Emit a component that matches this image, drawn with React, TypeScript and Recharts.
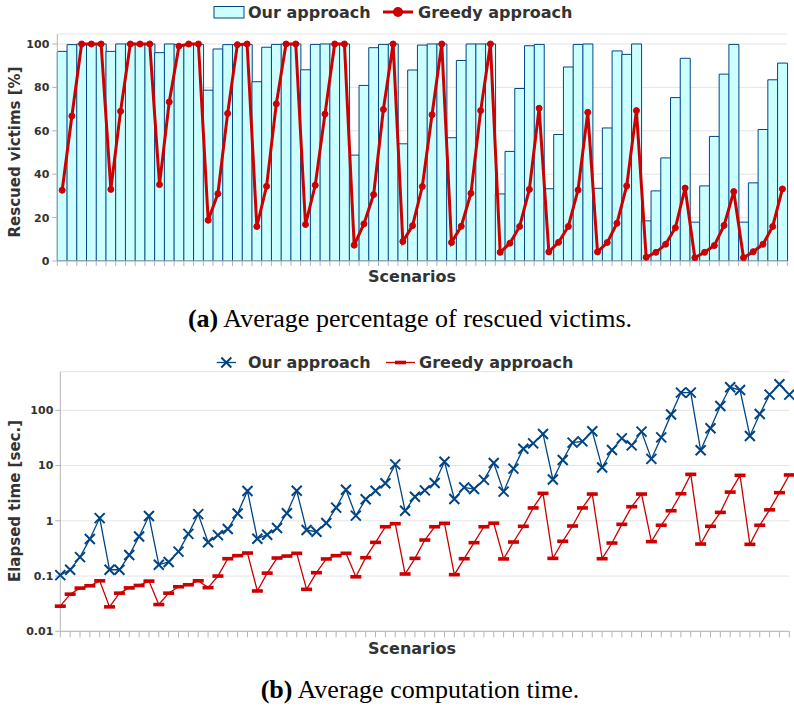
import React from 'react';
import {
  ComposedChart,
  LineChart,
  Bar,
  Line,
  XAxis,
  YAxis,
  CartesianGrid,
  ReferenceArea,
} from 'recharts';

// ---------- categories ----------
const scenarios: number[] = Array.from({ length: 75 }, (_, i) => i + 1);

// ---------- (a) rescued victims [%] ----------
const rescuedOur = [
  96.6, 99.7, 100, 100, 100, 96.6, 100, 100, 100, 100, 96, 100, 99.8, 99.7, 99.8,
  78.7, 97.7, 99.7, 99.7, 99.7, 82.6, 98.5, 99.8, 100, 100, 88.1, 99.8, 100, 100, 100,
  48.8, 80.9, 98.3, 99.8, 100, 54, 88, 99.5, 100, 100, 56.8, 92.4, 100, 100, 100,
  30.9, 50.5, 79.5, 99.2, 99.8, 33.3, 58.3, 89.4, 99.8, 100, 33.5, 61.3, 96.8, 95.2, 100,
  18.5, 32.3, 47.5, 75.3, 93.4, 17.9, 34.6, 57.4, 86.1, 99.8, 17.9, 36, 60.6, 83.5, 91.2,
];
const rescuedGreedy = [
  32.6, 66.8, 100, 100, 100, 33, 69, 100, 100, 100, 35.2, 73.3, 99, 100, 100,
  18.8, 31, 68, 99.7, 100, 15.9, 34.4, 72.4, 100, 100, 16.8, 34.9, 67.7, 100, 100,
  7.3, 17.1, 30.6, 69.8, 100, 9, 16.3, 34.3, 67.4, 100, 8.5, 16, 31.2, 69.3, 100,
  4, 8.2, 15.9, 33, 70.4, 4.2, 8.6, 15.9, 32.7, 68.5, 4.2, 8.5, 17.4, 34.6, 69.3,
  1.7, 4, 7.7, 15.3, 33.6, 1.5, 4, 7.1, 16.4, 32, 1.5, 4.3, 7.7, 15.9, 33.2,
];
const rescuedTicks = [0, 20, 40, 60, 80, 100];

// ---------- (b) elapsed time [sec.] ----------
const timeOur = [
  0.104, 0.13, 0.22, 0.47, 1.12, 0.13, 0.13, 0.24, 0.52, 1.22, 0.16, 0.18, 0.277, 0.58, 1.32,
  0.41, 0.55, 0.71, 1.36, 3.47, 0.475, 0.56, 0.74, 1.37, 3.5, 0.68, 0.635, 0.91, 1.73, 3.66,
  1.24, 2.45, 3.5, 4.77, 10.5, 1.52, 2.73, 3.56, 4.83, 11.7, 2.48, 4.03, 3.76, 5.5, 11.1,
  3.37, 8.8, 20.2, 25.2, 37.3, 5.6, 12.6, 26, 27.4, 41.7, 9.2, 19.1, 31, 23.2, 41.1,
  13.2, 32.4, 84, 209, 209, 18.9, 47.2, 120, 261, 233, 34.3, 86, 192, 296, 192,
];
const timeGreedy = [
  0.0285, 0.047, 0.0605, 0.0667, 0.082, 0.0277, 0.049, 0.061, 0.0676, 0.081, 0.0305, 0.049, 0.064, 0.0695, 0.082,
  0.0617, 0.1, 0.206, 0.234, 0.261, 0.0537, 0.113, 0.212, 0.23, 0.258, 0.0575, 0.115, 0.204, 0.234, 0.258,
  0.097, 0.215, 0.407, 0.78, 0.887, 0.109, 0.209, 0.449, 0.78, 0.9, 0.106, 0.206, 0.402, 0.78, 0.905,
  0.204, 0.413, 0.795, 1.71, 3.14, 0.209, 0.426, 0.805, 1.71, 3.05, 0.206, 0.396, 0.863, 1.8, 3.05,
  0.42, 0.83, 1.52, 3.09, 6.93, 0.38, 0.795, 1.42, 3.31, 6.65, 0.375, 0.83, 1.58, 3.23, 6.76,
];
const timeTicks = [0.01, 0.1, 1, 10, 100];

const seriesOur = 'Our approach';
const seriesGreedy = 'Greedy approach';
const xLabel = 'Scenarios';
const yLabelA = 'Rescued victims [%]';
const yLabelB = 'Elapsed time [sec.]';

const dataA = scenarios.map((s, i) => ({ scenario: s, our: rescuedOur[i], greedy: rescuedGreedy[i] }));
const dataB = scenarios.map((s, i) => ({ scenario: s, our: timeOur[i], greedy: timeGreedy[i] }));

const BLUE = '#004586';
const RED = '#cc0000';
const AXIS = '#b3b3b3';
const GRID = '#e4e4e4';
const TEXT = '#333333';
const FONT = "'DejaVu Sans', sans-serif";

const tickStyle = { fill: TEXT, fontSize: 11, fontWeight: 'bold' as const, fontFamily: FONT };

// tick marks at category boundaries (band edges) for the bar chart
const BoundaryTick = (props: any) => {
  const { x, y, payload, index, visibleTicksCount } = props;
  const half = payload && payload.offset ? payload.offset : 0;
  const last = visibleTicksCount != null ? index === visibleTicksCount - 1 : index === scenarios.length - 1;
  return (
    <g>
      <line x1={x - half} y1={y - 5} x2={x - half} y2={y} stroke={AXIS} strokeWidth={1} />
      {last ? <line x1={x + half} y1={y - 5} x2={x + half} y2={y} stroke={AXIS} strokeWidth={1} /> : null}
    </g>
  );
};

const CrossDot = (props: any) => {
  const { cx, cy, index } = props;
  if (cx == null || cy == null) return <g key={`xc-${index}`} />;
  return (
    <path
      key={`xc-${index}`}
      d={`M${cx - 5},${cy - 5}L${cx + 5},${cy + 5}M${cx + 5},${cy - 5}L${cx - 5},${cy + 5}`}
      stroke={BLUE}
      strokeWidth={2}
      fill="none"
    />
  );
};

const DashDot = (props: any) => {
  const { cx, cy, index } = props;
  if (cx == null || cy == null) return <g key={`dd-${index}`} />;
  return <rect key={`dd-${index}`} x={cx - 5.5} y={cy - 1.8} width={11} height={3.6} fill={RED} />;
};

export default function App() {
  return (
    <div style={{ position: 'absolute', left: 0, top: 0, width: 794, height: 709, background: '#fff' }}>
      {/* (a) */}
      <div style={{ position: 'absolute', left: 0, top: 0 }}>
        <ComposedChart
          width={794}
          height={291}
          data={dataA}
          margin={{ top: 34, right: 6.7, bottom: 0, left: 7.3 }}
          barCategoryGap={0}
          barGap={0}
        >
          <CartesianGrid vertical={false} stroke={GRID} />
          <ReferenceArea fill="none" stroke={AXIS} strokeWidth={1} ifOverflow="visible" />
          <XAxis
            dataKey="scenario"
            interval={0}
            tickLine={false}
            tickSize={5}
            tickMargin={0}
            tick={BoundaryTick}
            height={30}
            stroke={AXIS}
          />
          <YAxis
            domain={[0, 104.6]}
            ticks={rescuedTicks}
            allowDataOverflow
            width={50}
            tickSize={5}
            tickMargin={3}
            stroke={AXIS}
            tick={tickStyle}
            interval={0}
          />
          <Bar dataKey="our" name={seriesOur} fill="#ccffff" stroke={BLUE} strokeWidth={1} isAnimationActive={false} />
          <Line
            dataKey="greedy"
            name={seriesGreedy}
            stroke={RED}
            strokeWidth={3}
            dot={{ r: 3, fill: RED, stroke: RED, strokeWidth: 1 }}
            activeDot={false}
            isAnimationActive={false}
          />
        </ComposedChart>
      </div>

      {/* (b) */}
      <div style={{ position: 'absolute', left: 0, top: 340 }}>
        <LineChart width={794} height={322} data={dataB} margin={{ top: 31.7, right: 4.7, bottom: 0, left: 8.3 }}>
          <CartesianGrid vertical={false} stroke={GRID} />
          <ReferenceArea fill="none" stroke={AXIS} strokeWidth={1} ifOverflow="visible" />
          <XAxis
            dataKey="scenario"
            interval={0}
            tickFormatter={() => ''}
            tickSize={6}
            height={30.7}
            stroke={AXIS}
          />
          <YAxis
            scale="log"
            domain={[0.01, 500]}
            ticks={timeTicks}
            allowDataOverflow
            interval={0}
            width={52}
            tickSize={5}
            tickMargin={2}
            stroke={AXIS}
            tick={tickStyle}
          />
          <Line dataKey="our" name={seriesOur} stroke={BLUE} strokeWidth={1.3} dot={CrossDot} activeDot={false} isAnimationActive={false} />
          <Line dataKey="greedy" name={seriesGreedy} stroke={RED} strokeWidth={1.3} dot={DashDot} activeDot={false} isAnimationActive={false} />
        </LineChart>
      </div>

      {/* texts and legends */}
      <svg
        width={794}
        height={709}
        style={{ position: 'absolute', left: 0, top: 0, pointerEvents: 'none' }}
      >
        <g fontFamily={FONT} fontWeight="bold" fill={TEXT}>
          {/* legend a */}
          <rect x={214} y={6.5} width={30} height={11.5} fill="#ccffff" stroke={BLUE} strokeWidth={1} />
          <text x={248} y={18} fontSize={16}>{seriesOur}</text>
          <line x1={383} y1={12} x2={413} y2={12} stroke={RED} strokeWidth={3} />
          <circle cx={398} cy={12} r={5} fill={RED} />
          <text x={418} y={18} fontSize={16}>{seriesGreedy}</text>

          {/* axis labels a */}
          <text x={412} y={282} fontSize={16} textAnchor="middle">{xLabel}</text>
          <text x={19.5} y={152} fontSize={15} textAnchor="middle" transform="rotate(-90 19.5 152)">{yLabelA}</text>

          {/* legend b */}
          <line x1={216.7} y1={362.5} x2={236} y2={362.5} stroke={BLUE} strokeWidth={1.3} />
          <path d="M221.3,357.5L231.3,367.5M231.3,357.5L221.3,367.5" stroke={BLUE} strokeWidth={2} fill="none" />
          <text x={248} y={367.5} fontSize={16}>{seriesOur}</text>
          <line x1={386} y1={362.5} x2={415} y2={362.5} stroke={RED} strokeWidth={1.3} />
          <rect x={395} y={360.7} width={11} height={3.6} fill={RED} />
          <text x={419} y={367.5} fontSize={16}>{seriesGreedy}</text>

          {/* axis labels b */}
          <text x={412} y={654} fontSize={16} textAnchor="middle">{xLabel}</text>
          <text x={19.5} y={501} fontSize={15} textAnchor="middle" transform="rotate(-90 19.5 501)">{yLabelB}</text>
        </g>

        {/* captions */}
        <g fontFamily="'Liberation Serif', 'Times New Roman', serif" fontSize={26} fill="#000">
          <text x={410} y={327} textAnchor="middle">
            <tspan fontWeight="bold">(a)</tspan> Average percentage of rescued victims.
          </text>
          <text x={420} y={698} textAnchor="middle">
            <tspan fontWeight="bold">(b)</tspan> Average computation time.
          </text>
        </g>
      </svg>
    </div>
  );
}
